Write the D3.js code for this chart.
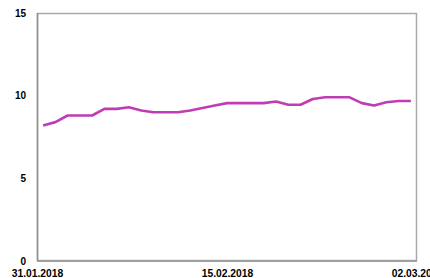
<!DOCTYPE html>
<html><head><meta charset="utf-8">
<script src="https://cdn.jsdelivr.net/npm/d3@7"></script>
<style>html,body{margin:0;padding:0;background:#fff;overflow:hidden}svg{display:block}</style>
</head><body>
<script>
const dates = ["31.01.2018","01.02.2018","02.02.2018","03.02.2018","04.02.2018","05.02.2018","06.02.2018","07.02.2018","08.02.2018","09.02.2018","10.02.2018","11.02.2018","12.02.2018","13.02.2018","14.02.2018","15.02.2018","16.02.2018","17.02.2018","18.02.2018","19.02.2018","20.02.2018","21.02.2018","22.02.2018","23.02.2018","24.02.2018","25.02.2018","26.02.2018","27.02.2018","28.02.2018","01.03.2018","02.03.2018"];
const values = [8.2,8.4,8.8,8.8,8.8,9.2,9.2,9.3,9.1,9.0,9.0,9.0,9.1,9.25,9.4,9.55,9.55,9.55,9.55,9.65,9.45,9.45,9.8,9.9,9.9,9.9,9.55,9.4,9.6,9.68,9.68];
const xTickLabels = ["31.01.2018","15.02.2018","02.03.2018"];
const yTicks = [0,5,10,15];

const W=430,H=278;
const m={left:37,right:13,top:13,bottom:17};
const svg=d3.select("body").append("svg").attr("width",W).attr("height",H);
const parse=d3.timeParse("%d.%m.%Y");
const x=d3.scaleBand().domain(dates).range([m.left,W-m.right]);
const xl=d3.scaleTime().domain([parse(xTickLabels[0]),parse(xTickLabels[2])]).range([m.left,W-m.right]);
const y=d3.scaleLinear().domain([0,15]).range([H-m.bottom,m.top]);

// plot frame
svg.append("rect").attr("x",m.left+0.5).attr("y",m.top+0.5)
  .attr("width",W-m.left-m.right-1).attr("height",H-m.top-m.bottom-1)
  .attr("fill","none").attr("stroke","#aaaaaa").attr("stroke-width",1.5);
svg.append("line").attr("x1",m.left).attr("x2",W-m.right).attr("y1",y(0)).attr("y2",y(0))
  .attr("stroke","#a0a0a0").attr("stroke-width",2);
svg.append("line").attr("x1",m.left+0.5).attr("x2",m.left+0.5).attr("y1",m.top).attr("y2",y(0))
  .attr("stroke","#909090").attr("stroke-width",1.5);

const font="'Liberation Sans', Arial, sans-serif";
// y axis labels
const ya=svg.append("g").attr("transform",`translate(${m.left},0)`)
  .call(d3.axisLeft(y).tickValues(yTicks).tickSize(0).tickPadding(11).tickFormat(d3.format("d")));
ya.select(".domain").remove();
ya.selectAll("text").attr("font-family",font).attr("font-weight","bold").attr("font-size","10px").attr("fill","#000");

// x axis labels
const xa=svg.append("g").attr("transform",`translate(0,${H-m.bottom})`)
  .call(d3.axisBottom(xl).tickValues(xTickLabels.map(parse)).tickSize(0).tickPadding(9).tickFormat(d3.timeFormat("%d.%m.%Y")));
xa.select(".domain").remove();
xa.selectAll("text").attr("font-family",font).attr("font-weight","bold").attr("font-size","10.3px").attr("fill","#000");

// line
const line=d3.line().x((d,i)=>x(dates[i])+x.bandwidth()/2).y(d=>y(d));
svg.append("path").datum(values).attr("d",line).attr("fill","none")
  .attr("stroke","#c03cb4").attr("stroke-width",2.6).attr("stroke-linejoin","round");
</script>
</body></html>
